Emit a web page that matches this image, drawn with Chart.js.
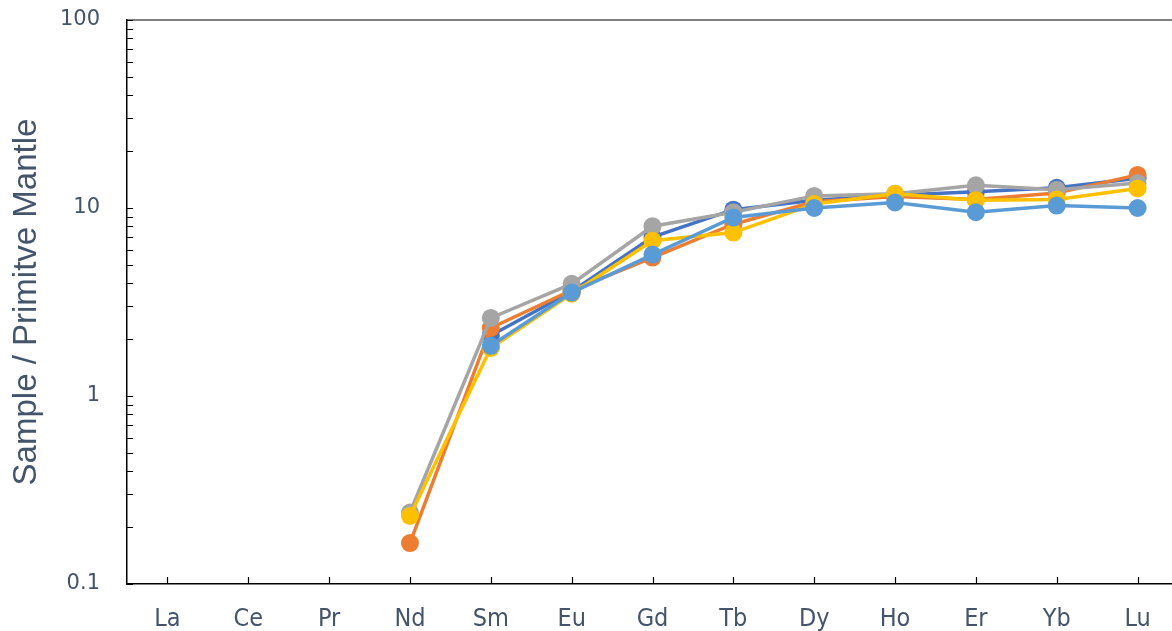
<!DOCTYPE html>
<html>
<head>
<meta charset="utf-8">
<title>Sample / Primitive Mantle</title>
<script src="https://cdn.jsdelivr.net/npm/chart.js@4.4.1/dist/chart.umd.min.js"></script>
<style>
    html, body { margin: 0; padding: 0; background: #ffffff; overflow: hidden; }
    #graficoTerras { display: block; }
</style>
</head>
<body>
<canvas id="graficoTerras" width="1178" height="631"></canvas>
<script>
const elementos = ["La", "Ce", "Pr", "Nd", "Sm", "Eu", "Gd", "Tb", "Dy", "Ho", "Er", "Yb", "Lu"];
const ticksY = [0.1, 1, 10, 100];

const serieAzul = [null, null, null, null, 2.1, 3.6, 7.0, 9.8, 11.0, 11.7, 12.2, 12.8, 14.4];
const serieLaranja = [null, null, null, 0.165, 2.3, 3.65, 5.45, 8.2, 10.8, 11.5, 11.1, 12.0, 15.0];
const serieCinza = [null, null, null, 0.24, 2.6, 3.95, 8.0, 9.5, 11.6, 11.9, 13.2, 12.5, 13.6];
const serieAmarela = [null, null, null, 0.23, 1.8, 3.5, 6.7, 7.4, 10.5, 11.9, 11.0, 11.1, 12.7];
const serieAzulClaro = [null, null, null, null, 1.85, 3.55, 5.65, 8.9, 10.0, 10.7, 9.5, 10.3, 10.0];

const corTexto = "#44546A";

function serie(dados, cor, ordem) {
    return {
        data: dados,
        borderColor: cor,
        backgroundColor: cor,
        pointBackgroundColor: cor,
        pointBorderColor: cor,
        borderWidth: 3.5,
        pointRadius: 9,
        pointBorderWidth: 0,
        tension: 0,
        order: ordem
    };
}

// marcas para dentro do grafico, como no Excel
const marcasInternas = {
    id: "marcasInternas",
    beforeDatasetsDraw(chart) {
        const ctx = chart.ctx;
        const area = chart.chartArea;
        const escalaY = chart.scales.y;
        const escalaX = chart.scales.x;
        ctx.save();
        ctx.strokeStyle = "#000000";
        ctx.lineWidth = 1.2;
        ctx.beginPath();
        ctx.moveTo(area.left, area.top);
        ctx.lineTo(area.right, area.top);
        ctx.stroke();

        ctx.beginPath();
        for (let decada = 0.1; decada < 100; decada *= 10) {
            for (let m = 1; m <= 10; m++) {
                const y = Math.round(escalaY.getPixelForValue(decada * m)) + 0.5;
                ctx.moveTo(area.left, y);
                ctx.lineTo(area.left + 6, y);
            }
        }
        for (let i = 0; i < elementos.length; i++) {
            const x = Math.round(escalaX.getPixelForTick(i)) + 0.5;
            ctx.moveTo(x, area.bottom);
            ctx.lineTo(x, area.bottom - 7);
        }
        ctx.stroke();
        ctx.restore();
    }
};

new Chart(document.getElementById("graficoTerras"), {
    type: "line",
    data: {
        labels: elementos,
        datasets: [
            serie(serieAzul, "#4472C4", 4),
            serie(serieLaranja, "#ED7D31", 3),
            serie(serieCinza, "#A5A5A5", 2),
            serie(serieAmarela, "#FFC000", 1),
            serie(serieAzulClaro, "#5B9BD5", 0)
        ]
    },
    options: {
        responsive: false,
        animation: false,
        layout: { autoPadding: false, padding: { top: 20, right: 0, bottom: 0, left: 0 } },
        plugins: {
            legend: { display: false },
            tooltip: { enabled: false }
        },
        scales: {
            x: {
                type: "category",
                offset: true,
                grid: { display: false, drawTicks: false },
                border: { display: true, color: "#000000", width: 1.5 },
                ticks: {
                    color: corTexto,
                    padding: 20,
                    maxRotation: 0,
                    font: { family: "'Liberation Sans Narrow', 'DejaVu Sans Condensed', sans-serif", size: 25 }
                },
                afterFit(escala) {
                    escala.height = 47;
                    escala.paddingLeft = 0;
                    escala.paddingRight = 0;
                }
            },
            y: {
                type: "logarithmic",
                min: 0.1,
                max: 100,
                grid: { display: false, drawTicks: false },
                border: { display: true, color: "#000000", width: 1.5 },
                afterBuildTicks(escala) {
                    escala.ticks = ticksY.map(v => ({ value: v }));
                },
                ticks: {
                    color: corTexto,
                    padding: 27,
                    font: { family: "'DejaVu Sans', sans-serif", size: 21 },
                    callback: valor => String(valor)
                },
                title: {
                    display: true,
                    text: "Sample / Primitve Mantle",
                    color: corTexto,
                    padding: { top: 7, bottom: 0 },
                    font: { family: "'Liberation Sans', Arial, sans-serif", size: 33 }
                },
                afterFit(escala) {
                    escala.width = 127;
                    escala.paddingTop = 0;
                    escala.paddingBottom = 0;
                }
            }
        }
    },
    plugins: [marcasInternas]
});
</script>
</body>
</html>
